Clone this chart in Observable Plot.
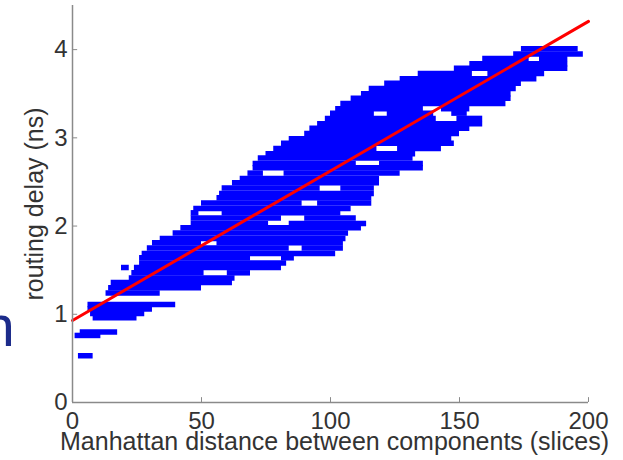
<!DOCTYPE html>
<html><head><meta charset="utf-8">
<script src="https://cdn.jsdelivr.net/npm/d3@7"></script>
<script src="https://cdn.jsdelivr.net/npm/@observablehq/plot@0.6"></script>
<style>body{margin:0;background:#fff;overflow:hidden}</style>
</head><body><div id="chart"></div>
<script>
const xTicks = [0, 50, 100, 150, 200];
const yTicks = [0, 1, 2, 3, 4];
const xLabel = "Manhattan distance between components (slices)";
const yLabel = "routing delay (ns)";
const slideGlyph = "n";

// horizontal runs of samples: delay (ns), first and last distance (slices)
const runDelay = [4.01,3.95,3.90,3.90,3.84,3.79,3.73,3.73,3.67,3.62,3.56,3.50,3.45,3.39,3.33,3.33,3.28,3.28,3.28,3.22,3.22,3.16,3.11,3.05,2.99,2.94,2.88,2.88,2.82,2.77,2.71,2.71,2.66,2.60,2.60,2.54,2.49,2.43,2.43,2.37,2.32,2.26,2.26,2.20,2.15,2.15,2.09,2.09,2.03,2.03,1.98,1.92,1.86,1.81,1.81,1.75,1.75,1.69,1.64,1.64,1.58,1.53,1.53,1.47,1.47,1.41,1.36,1.30,1.24,1.11,1.06,1.01,0.96,0.80,0.76,0.53];
const runStart = [174,171,159,181,154,148,134,161,127,121,115,112,108,104,102,143,100,122,147,98,149,95,92,90,84,81,78,126,75,72,70,119,70,68,82,65,62,58,104,57,56,50,95,47,46,58,46,90,46,84,42,39,34,31,56,29,89,27,26,81,26,19,24,23,60,22,15,14,13,6,6,7,8,3,1,2.3];
const runEnd   = [196,198,177,192,192,192,155,183,180,174,172,170,170,168,136,154,117,140,153,141,159,159,154,150,147,148,118,143,133,132,110,136,136,74,127,119,119,96,117,117,116,89,116,108,49,104,81,110,76,114,112,107,106,50,105,84,105,102,69,86,83,22,81,51,69,63,62,50,34,40,31,28,25,17.5,11,8];

// fitted line end points
const fitDistance = [0, 200];
const fitDelay = [0.93, 4.32];

const runs = runDelay.map((d, i) => ({delay: d, x1: runStart[i], x2: runEnd[i]}));
const fit = fitDistance.map((x, i) => ({x, y: fitDelay[i]}));

const font = "'Liberation Sans', Arial, Helvetica, sans-serif";
const ink = "#333333";
const axisGray = "#8a8a8a";

const chart = Plot.plot({
  width: 623,
  height: 460,
  marginLeft: 72,
  marginRight: 35,
  marginTop: 5,
  marginBottom: 58,
  style: {fontFamily: font, background: "#ffffff", color: ink},
  x: {domain: [0, 200]},
  y: {domain: [0, 4.5]},
  marks: [
    Plot.ruleY(runs, {y: "delay", x1: "x1", x2: "x2", stroke: "#0000ff", strokeWidth: 5.5}),
    Plot.line(fit, {x: "x", y: "y", stroke: "#ff0000", strokeWidth: 3}),
    Plot.ruleX([0], {stroke: axisGray, strokeWidth: 1.5}),
    Plot.ruleY([0], {stroke: axisGray, strokeWidth: 1.5}),
    Plot.ruleY(yTicks, {y: d => d, x1: 0, x2: 2, stroke: axisGray}),
    Plot.ruleX(xTicks, {x: d => d, y1: 0, y2: 0.055, stroke: axisGray}),
    Plot.axisX({ticks: xTicks, tickSize: 0, tickPadding: 9, fontSize: 24, fill: ink, label: null, tickFormat: d => d}),
    Plot.axisY({ticks: yTicks, tickSize: 0, tickPadding: 5, fontSize: 24, fill: ink, label: null, tickFormat: d => d}),
    Plot.text([xLabel], {frameAnchor: "bottom", textAnchor: "middle", dy: 47, dx: 4, lineAnchor: "bottom", fontSize: 25, fill: ink}),
    Plot.text([yLabel], {frameAnchor: "left", textAnchor: "middle", rotate: -90, dx: -30, lineAnchor: "bottom", fontSize: 25, fill: ink}),
    Plot.text([slideGlyph], {frameAnchor: "top-left", textAnchor: "start", dx: -90, dy: 340, lineAnchor: "bottom", fontSize: 58, fill: "#1c2b8a"})
  ]
});
document.getElementById("chart").appendChild(chart);
</script>
</body></html>
